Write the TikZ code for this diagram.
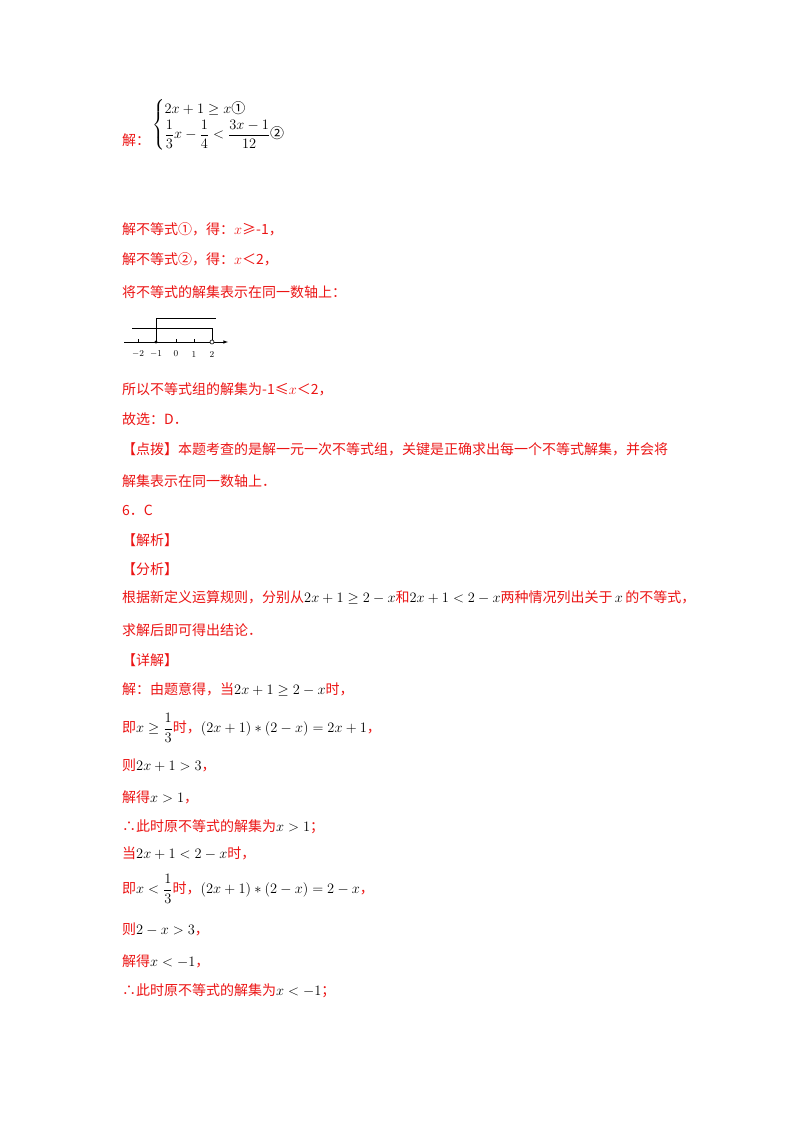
\documentclass[tikz,border=0pt]{standalone}
\usepackage{amsmath,amssymb}
\usepackage{fontspec}
\newfontfamily\cjk{Noto Sans CJK SC}
\definecolor{rd}{RGB}{235,20,20}
\begin{document}
\begin{tikzpicture}[x=1pt,y=-1pt,
  tx/.style={anchor=west,inner sep=0pt,font=\fontsize{14}{16}\selectfont,text=rd},
  ax/.style={line width=0.6pt}]
\useasboundingbox (0,0) rectangle (800,1132);
\node[tx] (a0) at (122,140) {\cjk 解：};
\node[anchor=west,inner sep=0pt,text=black,font=\fontsize{14}{16}\selectfont] (a1) at (152,125) {$\left\{\begin{array}{@{}l}2x+1\geq x\text{\cjk ①}\\[2pt] \dfrac13x-\dfrac14<\dfrac{3x-1}{12}\text{\cjk ②}\end{array}\right.$};
\node[tx] (l1) at (122,229) {\cjk 解不等式①，得：$x$≥-1，};
\node[tx] (l2) at (122,259) {\cjk 解不等式②，得：$x$＜2，};
\node[tx] (l3) at (122,292) {\cjk 将不等式的解集表示在同一数轴上：};
% number line
\coordinate (s) at (124,342); \coordinate (e) at (228,342);
\draw[ax,-latex] (s) -- (e);
\foreach \xx/\lab in {138/$-2$,156/$-1$,176/0,194/1,212/2}{\draw[ax] (\xx,342) -- (\xx,339); \node[font=\small,inner sep=0pt] at (\xx,354) {\lab};}
\fill (156,342) circle (1.6);
\draw[ax,fill=white] (212,342) circle (2);
\draw[ax] (156,342) -- (156,318) -- (216,318);
\draw[ax] (132,328) -- (212,328) -- (212,340);
\node[tx] (l4) at (122,389) {\cjk 所以不等式组的解集为-1≤$x$＜2，};
\node[tx] (l5) at (122,419) {\cjk 故选：D．};
\node[tx] (l6) at (122,449) {\cjk 【点拨】本题考查的是解一元一次不等式组，关键是正确求出每一个不等式解集，并会将};
\node[tx] (l7) at (122,481) {\cjk 解集表示在同一数轴上．};
\node[tx] (l8) at (122,510) {\cjk 6．C};
\node[tx] (l9) at (122,540) {\cjk 【解析】};
\node[tx] (l10) at (122,569) {\cjk 【分析】};
\node[tx] (l11) at (122,598) {\cjk 根据新定义运算规则，分别从\textcolor{black}{$2x+1\geq2-x$}和\textcolor{black}{$2x+1<2-x$}两种情况列出关于\,\textcolor{black}{$x$}\,的不等式，};
\node[tx] (l12) at (122,630) {\cjk 求解后即可得出结论．};
\node[tx] (l13) at (122,660) {\cjk 【详解】};
\node[tx] (l14) at (122,690) {\cjk 解：由题意得，当\textcolor{black}{$2x+1\geq2-x$}时，};
\node[tx] (l15) at (122,728) {\cjk 即\textcolor{black}{$x\geq\dfrac13$}时，\textcolor{black}{$(2x+1)*(2-x)=2x+1$}，};
\node[tx] (l16) at (122,765) {\cjk 则\textcolor{black}{$2x+1>3$}，};
\node[tx] (l17) at (122,797) {\cjk 解得\textcolor{black}{$x>1$}，};
\node[tx] (l18) at (122,827) {\cjk ∴此时原不等式的解集为\textcolor{black}{$x>1$}；};
\node[tx] (l19) at (122,853) {\cjk 当\textcolor{black}{$2x+1<2-x$}时，};
\node[tx] (l20) at (122,889) {\cjk 即\textcolor{black}{$x<\dfrac13$}时，\textcolor{black}{$(2x+1)*(2-x)=2-x$}，};
\node[tx] (l21) at (122,929) {\cjk 则\textcolor{black}{$2-x>3$}，};
\node[tx] (l22) at (122,961) {\cjk 解得\textcolor{black}{$x<-1$}，};
\node[tx] (l23) at (122,991) {\cjk ∴此时原不等式的解集为\textcolor{black}{$x<-1$}；};
\end{tikzpicture}
\end{document}
